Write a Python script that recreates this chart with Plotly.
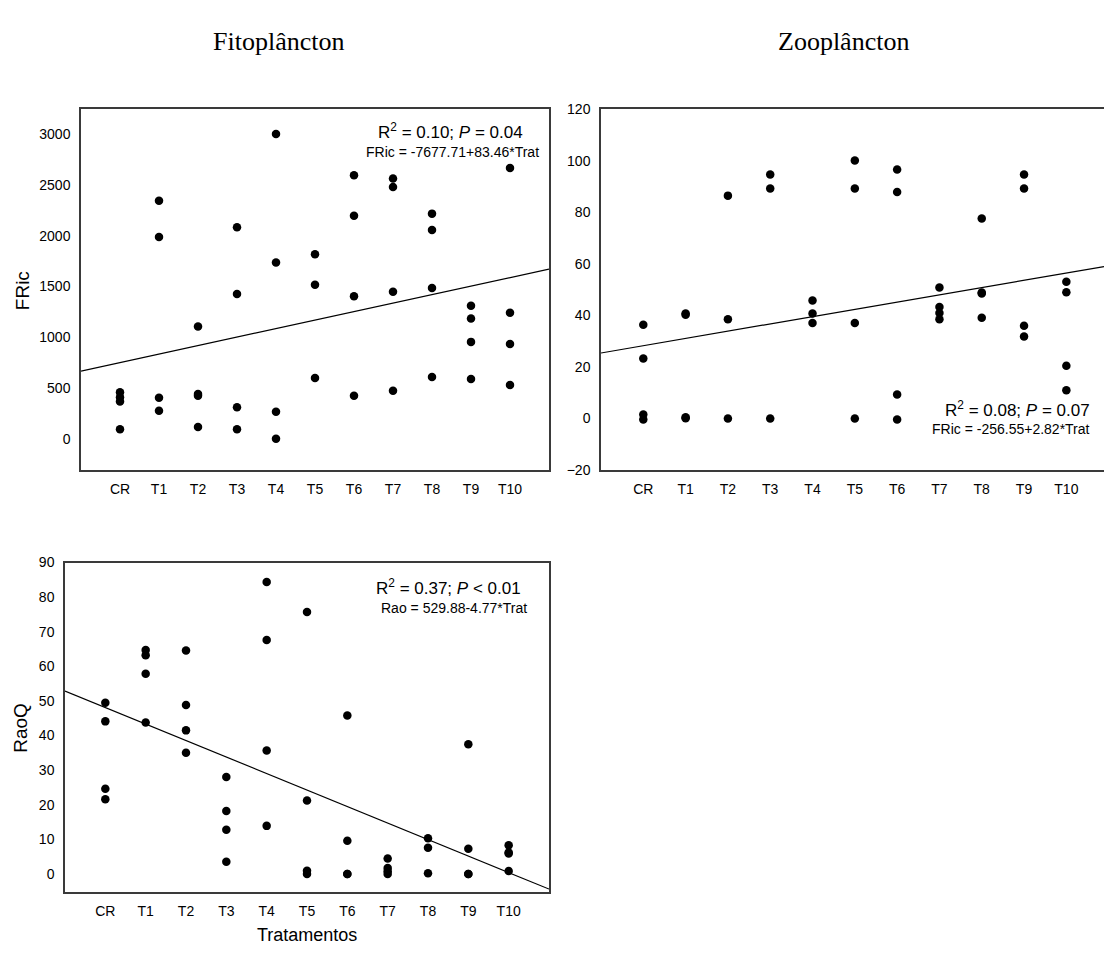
import plotly.graph_objects as go

W, H = 1104, 956

treatments = ["CR", "T1", "T2", "T3", "T4", "T5", "T6", "T7", "T8", "T9", "T10"]
trat_codes = list(range(101, 112))  # numeric predictor used in regressions

fito_fric = [
    [460, 410, 370, 95],
    [2342, 1987, 406, 277],
    [1106, 442, 426, 119],
    [2081, 1426, 313, 97],
    [3000, 1735, 268, 3],
    [1816, 1516, 600],
    [2594, 2194, 1403, 426],
    [2561, 2477, 1448, 474],
    [2216, 2055, 1484, 610],
    [1310, 1184, 955, 590],
    [2665, 1242, 935, 532],
]
zoo_fric = [
    [36.4, 23.3, 1.6, -0.4],
    [40.8, 40.3, 0.5, 0.1],
    [86.5, 38.5, 0.0],
    [94.7, 89.3, 0.0],
    [45.8, 40.8, 37.1],
    [100.1, 89.3, 37.1, 0.0],
    [96.6, 87.9, 9.3, -0.4],
    [50.9, 43.3, 41.0, 38.5],
    [77.6, 48.9, 48.5, 39.1],
    [94.7, 89.3, 36.0, 31.8],
    [53.1, 49.0, 20.5, 11.0],
]
fito_rao = [
    [49.5, 44.1, 24.6, 21.6],
    [64.7, 63.2, 57.9, 43.8],
    [64.6, 48.8, 41.5, 35.0],
    [28.0, 18.2, 12.8, 3.5],
    [84.4, 67.6, 35.7, 13.9],
    [75.7, 21.2, 0.9, 0.0],
    [45.8, 9.6, 0.0, 0.0],
    [4.5, 1.7, 0.8, 0.0],
    [10.3, 7.6, 0.2],
    [37.5, 7.3, 0.0, 0.0],
    [8.3, 6.2, 5.9, 0.85],
]

fito_fric_fit = (-7677.71, 83.46)
zoo_fric_fit = (-256.55, 2.82)
fito_rao_fit = (529.88, -4.77)

panels = [
    # data, fit, xaxis id, yaxis id, x range, y range, y ticks
    (fito_fric, fito_fric_fit, "x", "y", [-1, 11], [-306, 3242], list(range(0, 3001, 500))),
    (zoo_fric, zoo_fric_fit, "x2", "y2", [-1, 10.89], [-20, 120], list(range(-20, 121, 20))),
    (fito_rao, fito_rao_fit, "x3", "y3", [-1, 11], [-5.2, 90], list(range(0, 91, 10))),
]

fig = go.Figure()
for data, fit, xa, ya, xr, yr, yt in panels:
    xs, ys = [], []
    for i, vals in enumerate(data):
        for v in vals:
            xs.append(i)
            ys.append(v)
    fig.add_trace(go.Scatter(x=xs, y=ys, mode="markers", xaxis=xa, yaxis=ya,
                             marker=dict(color="black", size=8.5), showlegend=False,
                             cliponaxis=False))
    a, b = fit
    lx = [xr[0], xr[1]]
    ly = [a + b * (trat_codes[0] + x) for x in lx]
    fig.add_trace(go.Scatter(x=lx, y=ly, mode="lines", xaxis=xa, yaxis=ya,
                             line=dict(color="black", width=1.2), showlegend=False))

tickfont = dict(family="Liberation Sans, Arial", size=14, color="black")
axcol = "#3a3a3a"


def px_x(x):
    return x / W


def px_y(y):
    return 1 - y / H


def xaxis(dom, rng, anchor):
    return dict(domain=dom, range=rng, anchor=anchor, tickmode="array",
                tickvals=list(range(len(treatments))), ticktext=treatments,
                showline=True, linecolor=axcol, linewidth=1.5, mirror=True,
                ticks="", showgrid=False, zeroline=False, tickfont=tickfont,
                ticklabelstandoff=5)


def yaxis(dom, rng, ticks, anchor, mirror=True):
    return dict(domain=dom, range=rng, anchor=anchor, tickmode="array",
                tickvals=ticks, showline=True, linecolor=axcol, linewidth=1.5,
                mirror=mirror, ticks="", showgrid=False, zeroline=False,
                tickfont=tickfont, ticklabelstandoff=6)


top_dom = [px_y(470), px_y(103)]
bot_dom = [px_y(899), px_y(564)]

fig.update_layout(
    width=W, height=H,
    margin=dict(l=0, r=0, t=0, b=0),
    paper_bgcolor="white", plot_bgcolor="white",
    xaxis=xaxis([px_x(81), px_x(549)], panels[0][4], "y"),
    yaxis=yaxis(top_dom, panels[0][5], panels[0][6], "x"),
    xaxis2=xaxis([px_x(601), 1.0], panels[1][4], "y2"),
    yaxis2=yaxis(top_dom, panels[1][5], panels[1][6], "x2", mirror=False),
    xaxis3=xaxis([px_x(65), px_x(549)], panels[2][4], "y3"),
    yaxis3=yaxis(bot_dom, panels[2][5], panels[2][6], "x3"),
)

serif = dict(family="Liberation Serif, Times New Roman", size=26, color="black")
sans = "Liberation Sans, Arial"
anns = [
    dict(text="Fitoplâncton", x=px_x(278), y=px_y(34), font=serif),
    dict(text="Zooplâncton", x=px_x(843), y=px_y(34), font=serif),
    dict(text="FRic", x=px_x(22), y=px_y(287), textangle=-90,
         font=dict(family=sans, size=19, color="black")),
    dict(text="RaoQ", x=px_x(21), y=px_y(732), textangle=-90,
         font=dict(family=sans, size=19, color="black")),
    dict(text="Tratamentos", x=px_x(307), y=px_y(943),
         font=dict(family=sans, size=18, color="black")),
    dict(text="R<sup>2</sup> = 0.10; <i>P</i> = 0.04", x=px_x(525), y=px_y(125),
         xanchor="right", font=dict(family=sans, size=17, color="black")),
    dict(text="FRic = -7677.71+83.46*Trat", x=px_x(541), y=px_y(146),
         xanchor="right", font=dict(family=sans, size=14, color="black")),
    dict(text="R<sup>2</sup> = 0.08; <i>P</i> = 0.07", x=px_x(1092), y=px_y(408),
         xanchor="right", font=dict(family=sans, size=17, color="black")),
    dict(text="FRic = -256.55+2.82*Trat", x=px_x(1092), y=px_y(428),
         xanchor="right", font=dict(family=sans, size=14, color="black")),
    dict(text="R<sup>2</sup> = 0.37; <i>P</i> &lt; 0.01", x=px_x(523), y=px_y(589),
         xanchor="right", font=dict(family=sans, size=17, color="black")),
    dict(text="Rao = 529.88-4.77*Trat", x=px_x(529), y=px_y(610),
         xanchor="right", font=dict(family=sans, size=14, color="black")),
]
for a in anns:
    a.setdefault("xanchor", "center")
    a.update(xref="paper", yref="paper", yanchor="middle", showarrow=False)
    fig.add_annotation(**a)

fig.write_html(
    "out.html",
    config={"displayModeBar": False},
    post_script=(
        "document.body.style.margin='0px';"
        "document.documentElement.style.overflow='hidden';"
        "var gd=document.getElementById('{plot_id}');"
        "gd.style.position='fixed';gd.style.top='0px';gd.style.left='0px';"
    ),
)
